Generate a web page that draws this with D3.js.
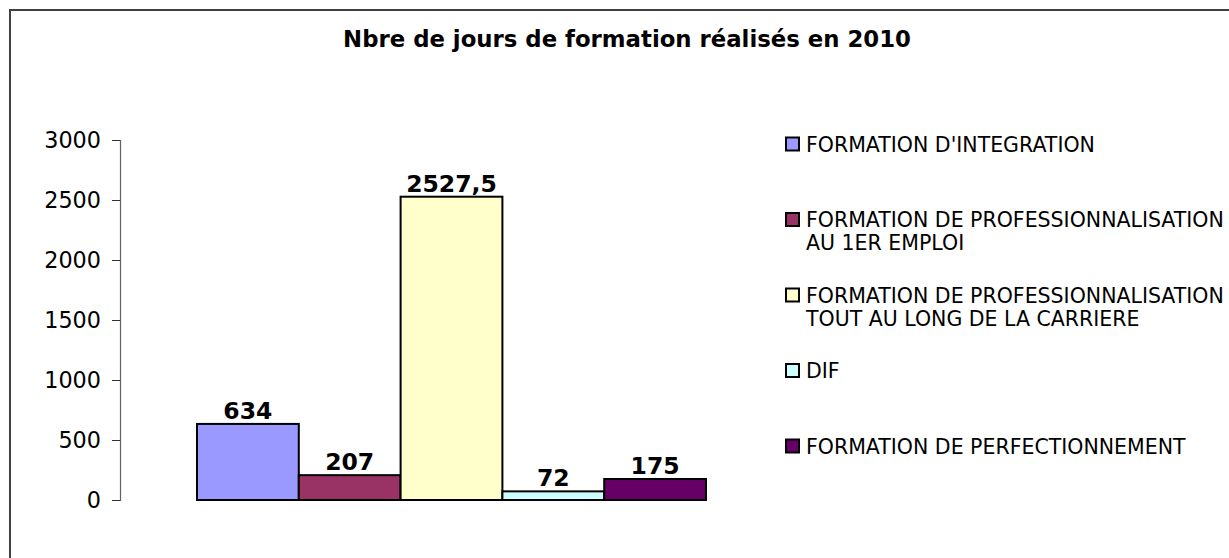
<!DOCTYPE html>
<html><head><meta charset="utf-8">
<script src="https://cdn.jsdelivr.net/npm/d3@7"></script>
<style>html,body{margin:0;padding:0;background:#fff;overflow:hidden}svg{display:block}</style>
</head><body>
<svg id="c" width="1229" height="558"></svg>
<script>
const categories = ["FORMATION D'INTEGRATION",
  "FORMATION DE PROFESSIONNALISATION AU 1ER EMPLOI",
  "FORMATION DE PROFESSIONNALISATION TOUT AU LONG DE LA CARRIERE",
  "DIF",
  "FORMATION DE PERFECTIONNEMENT"];
const values = [634, 207, 2527.5, 72, 175];
const valueLabels = ["634", "207", "2527,5", "72", "175"];
const legendLines = [["FORMATION D'INTEGRATION"],
  ["FORMATION DE PROFESSIONNALISATION", "AU 1ER EMPLOI"],
  ["FORMATION DE PROFESSIONNALISATION", "TOUT AU LONG DE LA CARRIERE"],
  ["DIF"],
  ["FORMATION DE PERFECTIONNEMENT"]];
const colors = ["#9999FF", "#993366", "#FFFFCC", "#CCFFFF", "#660066"];
const yTicks = [0, 500, 1000, 1500, 2000, 2500, 3000];
const title = "Nbre de jours de formation réalisés en 2010";

const svg = d3.select("#c");
const font = "'DejaVu Sans', Verdana, sans-serif";

// frame
svg.append("path").attr("d", "M10,560 L10,10 L1235,10")
  .attr("fill", "none").attr("stroke", "#404040").attr("stroke-width", 2);

svg.append("text").attr("x", 627).attr("y", 47).attr("text-anchor", "middle")
  .attr("font-family", font).attr("font-weight", "bold").attr("font-size", 22.8)
  .attr("fill", "#000").text(title);

const x = d3.scaleBand().domain(categories).range([197, 706]).padding(0);
const y = d3.scaleLinear().domain([0, 3000]).range([500, 140]);

const yAxis = svg.append("g").attr("transform", "translate(120,0)")
  .call(d3.axisLeft(y).tickValues(yTicks).tickSize(8).tickPadding(11).tickFormat(d3.format("d")));
yAxis.select(".domain").attr("stroke", "#606060").attr("stroke-width", 1.2);
yAxis.selectAll(".tick line").attr("stroke", "#303030");
yAxis.selectAll(".tick text").attr("font-family", font).attr("font-size", 22.3).attr("fill", "#000");

svg.append("g").selectAll("rect").data(categories).join("rect")
  .attr("x", d => x(d)).attr("width", x.bandwidth())
  .attr("y", (d, i) => y(values[i])).attr("height", (d, i) => y(0) - y(values[i]))
  .attr("fill", (d, i) => colors[i]).attr("stroke", "#000").attr("stroke-width", 2);

svg.append("g").selectAll("text").data(categories).join("text")
  .attr("x", d => x(d) + x.bandwidth() / 2).attr("y", (d, i) => y(values[i]) - 5)
  .attr("text-anchor", "middle").attr("font-family", font).attr("font-weight", "bold")
  .attr("font-size", 23.5).attr("fill", "#000").text((d, i) => valueLabels[i]);

const ly = d3.scalePoint().domain(categories).range([144, 446]);
const lg = svg.append("g").selectAll("g").data(categories).join("g")
  .attr("transform", d => `translate(786,${ly(d)})`);
lg.append("rect").attr("x", 0).attr("y", -6.5).attr("width", 13).attr("height", 13)
  .attr("fill", (d, i) => colors[i]).attr("stroke", "#000").attr("stroke-width", 2);
lg.append("text").attr("font-family", font).attr("font-size", 20.5).attr("fill", "#000")
  .each(function (d, i) {
    const t = d3.select(this);
    legendLines[i].forEach((ln, j) => {
      t.append("tspan").attr("x", 20).attr("y", 7.5 + j * 23).text(ln);
    });
  });
</script>
</body></html>
